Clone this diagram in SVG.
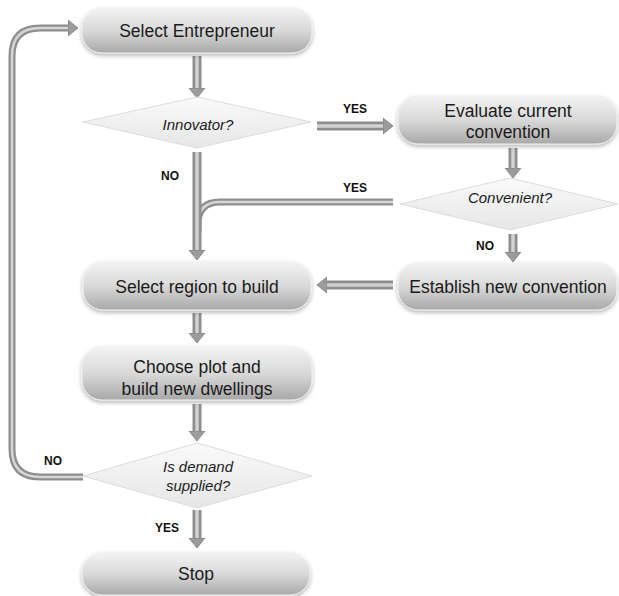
<svg xmlns="http://www.w3.org/2000/svg" width="619" height="596" viewBox="0 0 619 596">
<defs>
  <linearGradient id="boxg" x1="0" y1="0" x2="0" y2="1">
    <stop offset="0" stop-color="#f3f3f3"/>
    <stop offset="0.5" stop-color="#d9d9d9"/>
    <stop offset="1" stop-color="#a8a8a8"/>
  </linearGradient>
  <linearGradient id="diag" x1="0" y1="0" x2="0" y2="1">
    <stop offset="0" stop-color="#fafafa"/>
    <stop offset="1" stop-color="#e6e6e6"/>
  </linearGradient>
  <filter id="sh" x="-10%" y="-20%" width="120%" height="150%">
    <feDropShadow dx="0" dy="2" stdDeviation="2" flood-color="#000" flood-opacity="0.3"/>
  </filter>
  <marker id="ah" markerUnits="userSpaceOnUse" viewBox="0 -9 11 18" refX="0" refY="0" markerWidth="11" markerHeight="18" orient="auto">
    <path d="M0,-8 L10,0 L0,8 Z" fill="#9c9c9c" stroke="#7c7c7c" stroke-width="0.8"/>
  </marker>
  <style>
    .box{fill:url(#boxg);stroke:#f0f0f0;stroke-width:1;filter:url(#sh)}
    .dia{fill:url(#diag);stroke:#dcdcdc;stroke-width:1}
    .t{font-family:"Liberation Sans",Arial,sans-serif;font-size:17.5px;fill:#1a1a1a;text-anchor:middle}
    .q{font-family:"Liberation Sans",Arial,sans-serif;font-size:15px;font-style:italic;fill:#1a1a1a;text-anchor:middle}
    .lb{font-family:"Liberation Sans",Arial,sans-serif;font-size:12px;font-weight:bold;fill:#111;text-anchor:middle}
    .tube{fill:none;stroke:#8e8e8e;stroke-width:9}
    .hi{fill:none;stroke:#d2d2d2;stroke-width:3.5}
    .thin{fill:none;stroke:#8e8e8e;stroke-width:7}
    .thinhi{fill:none;stroke:#d6d6d6;stroke-width:2.5}
  </style>
</defs>
<rect width="619" height="596" fill="#ffffff"/>

<g id="connectors">
  <!-- Convenient YES merge into vertical -->
  <path class="thin" d="M393,202 H220 Q198,202 198,224 V232"/>
  <path class="thinhi" d="M393,202 H220 Q198,202 198,224 V232"/>
  <!-- loop back -->
  <path class="thin" d="M83,477 H40 Q12,477 12,449 V56 Q12,28 40,28 H68" marker-end="url(#ah)"/>
  <path class="thinhi" d="M83,477 H40 Q12,477 12,449 V56 Q12,28 40,28 H68"/>
  <!-- straight arrows -->
  <path class="tube" d="M197,56 V88" marker-end="url(#ah)"/>
  <path class="hi" d="M197,56 V88"/>
  <path class="tube" d="M197,152 V250" marker-end="url(#ah)"/>
  <path class="hi" d="M197,152 V250"/>
  <path class="tube" d="M317,126 H383" marker-end="url(#ah)"/>
  <path class="hi" d="M317,126 H383"/>
  <path class="tube" d="M513,148 V168" marker-end="url(#ah)"/>
  <path class="hi" d="M513,148 V168"/>
  <path class="tube" d="M513,234 V252" marker-end="url(#ah)"/>
  <path class="hi" d="M513,234 V252"/>
  <path class="tube" d="M393,285 H327" marker-end="url(#ah)"/>
  <path class="hi" d="M393,285 H327"/>
  <path class="tube" d="M197,313 V333" marker-end="url(#ah)"/>
  <path class="hi" d="M197,313 V333"/>
  <path class="tube" d="M197,404 V431" marker-end="url(#ah)"/>
  <path class="hi" d="M197,404 V431"/>
  <path class="tube" d="M197,510 V538" marker-end="url(#ah)"/>
  <path class="hi" d="M197,510 V538"/>
  <!-- labels -->
  <text class="lb" x="355" y="113">YES</text>
  <text class="lb" x="355" y="192">YES</text>
  <text class="lb" x="485" y="250">NO</text>
  <text class="lb" x="170" y="180">NO</text>
  <text class="lb" x="53" y="465">NO</text>
  <text class="lb" x="167" y="532">YES</text>
</g>

<g id="select-entrepreneur">
  <rect class="box" x="82" y="8" width="230" height="45" rx="20"/>
  <text class="t" x="197" y="37">Select Entrepreneur</text>
</g>
<g id="innovator">
  <polygon class="dia" points="83,122 197,97 311,122 197,148"/>
  <text class="q" x="198" y="130">Innovator?</text>
</g>
<g id="evaluate">
  <rect class="box" x="398" y="96" width="219" height="48" rx="20"/>
  <text class="t" x="508" y="117">Evaluate current</text>
  <text class="t" x="508" y="138">convention</text>
</g>
<g id="convenient">
  <polygon class="dia" points="400,204 510,178 618,204 510,230"/>
  <text class="q" x="510" y="203">Convenient?</text>
</g>
<g id="establish">
  <rect class="box" x="398" y="263" width="219" height="47" rx="20"/>
  <text class="t" x="508" y="293">Establish new convention</text>
</g>
<g id="select-region">
  <rect class="box" x="83" y="262" width="228" height="48" rx="20"/>
  <text class="t" x="197" y="293">Select region to build</text>
</g>
<g id="choose-plot">
  <rect class="box" x="82" y="347" width="230" height="53" rx="20"/>
  <text class="t" x="197" y="373">Choose plot and</text>
  <text class="t" x="197" y="395">build new dwellings</text>
</g>
<g id="demand">
  <polygon class="dia" points="83,476 197,443 312,476 197,508"/>
  <text class="q" x="198" y="472">Is demand</text>
  <text class="q" x="198" y="491">supplied?</text>
</g>
<g id="stop">
  <rect class="box" x="82" y="553" width="228" height="42" rx="20"/>
  <text class="t" x="196" y="580">Stop</text>
</g>
</svg>
